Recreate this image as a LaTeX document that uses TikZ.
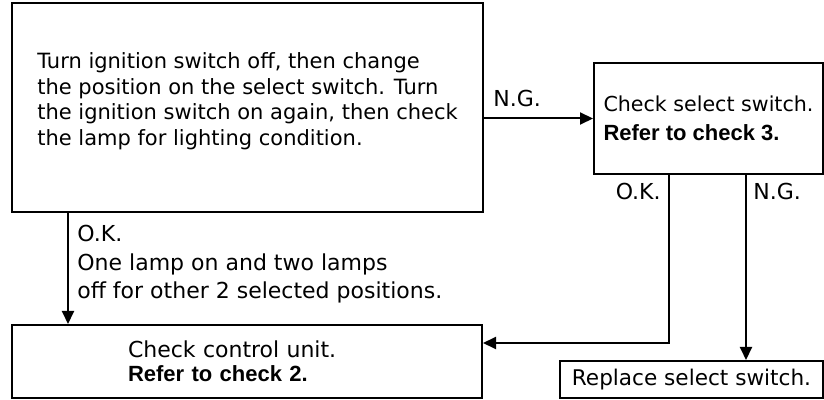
\documentclass[tikz,border=0pt]{standalone}
\usepackage{fontspec}
\setmainfont{DejaVu Sans}[BoldFont={Liberation Sans Bold}]
\usetikzlibrary{arrows.meta,positioning}

\begin{document}
\begin{tikzpicture}[x=0.5pt,y=-0.5pt,>={Triangle[length=6.5pt,width=6pt]},
    chk/.style={draw,line width=1pt,inner sep=0pt,align=left},
    lbl/.style={inner sep=0pt,align=left,font=\fontsize{11}{14.25}\selectfont},
    wire/.style={->,line width=1pt}]
    \useasboundingbox (0,0) rectangle (824,400);
    \node[chk,minimum width=235.5pt,minimum height=104.5pt,font=\fontsize{10.5}{12.85}\selectfont] (turn) at (247.5,107.5)
      {Turn ignition switch off, then change\\the position on the select switch. Turn\\the ignition switch on again, then check\\the lamp for lighting condition.\rule[-8.5pt]{0pt}{8.5pt}};
    \node[chk,minimum width=114.5pt,minimum height=55.5pt,font=\fontsize{10.3}{14.25}\selectfont] (sel) at (708.5,118.5)
      {Check select switch.\\\textbf{\fontsize{11}{14.25}\selectfont Refer to check 3.}};
    \node[chk,minimum width=235pt,minimum height=36.5pt,text width=119pt,font=\fontsize{11}{12}\selectfont] (ctrl) at (247,361.5)
      {Check control unit.\\\textbf{Refer to check 2.}};
    \node[chk,minimum width=131.5pt,minimum height=18.5pt,font=\fontsize{10.8}{12}\selectfont] (repl) at (691.5,379.5)
      {Replace select switch.};
    % labels
    \node[lbl,anchor=base west] (ng1) at (493,107) {N.G.};
    \node[lbl,anchor=north west] (ok1) at (77,225) {O.K.\\One lamp on and two lamps\\off for other 2 selected positions.};
    \node[lbl,anchor=base east] (ok2) at (661,200) {O.K.};
    \node[lbl,anchor=base west] (ng2) at (753,200) {N.G.};
    % connectors
    \draw[wire] (sel.west -| turn.east) -- (sel.west);
    \draw[wire] ([xshift=28.5pt]turn.south west) -- ([xshift=28.5pt]ctrl.north west);
    \draw[wire] ([xshift=38pt]sel.south west) |- ([yshift=9.25pt]ctrl.east);
    \draw[wire] ([xshift=76.5pt]sel.south west) -- ([xshift=76.5pt]sel.south west |- repl.north);
  \end{tikzpicture}
\end{document}
